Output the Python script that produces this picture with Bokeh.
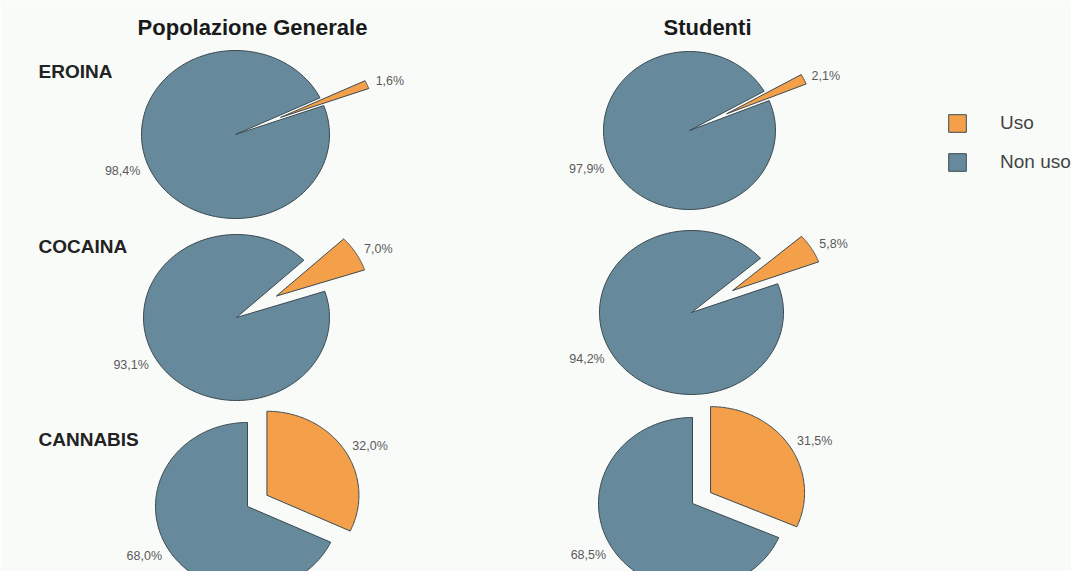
import numpy as np
from bokeh.plotting import figure
from bokeh.models import ColumnDataSource, Range1d, Legend, LegendItem
from bokeh.core.properties import value
from bokeh.embed import file_html
from bokeh.resources import INLINE

# ---------------- data ----------------
groups = ["Popolazione Generale", "Studenti"]
substances = ["EROINA", "COCAINA", "CANNABIS"]
series = ["Uso", "Non uso"]
uso_pop = [1.6, 7.0, 32.0]
non_uso_pop = [98.4, 93.1, 68.0]
uso_stud = [2.1, 5.8, 31.5]
non_uso_stud = [97.9, 94.2, 68.5]

# ---------------- layout (screen px) ----------------
centers = [[(235, 134), (236, 317), (247, 506)],
           [(689, 130), (691, 312), (692, 503)]]
radii = [[(94, 84), (93, 83), (92, 84)],
         [(86, 79), (92, 82), (94, 86)]]
uso_start_deg = [[25.9, 43.6, 90.0], [29.8, 41.4, 90.0]]
explode = [[0.52, 0.50, 0.25], [0.48, 0.52, 0.23]]
title_x = [252, 707]
row_label_y = [71, 246, 439]

C_USO = "#F4A04A"
C_NON = "#66899B"
C_EDGE = "#3c4a50"
BG = "#F9FBF9"
FONT = "Liberation Sans"


def arc(cx, cy, rx, ry, a0, a1, n=140):
    t = np.radians(np.linspace(a0, a1, n))
    return list(cx + rx * np.cos(t)), list(cy + ry * np.sin(t))


p = figure(width=1071, height=571, x_range=Range1d(0, 1071), y_range=Range1d(-571, 0),
           output_backend="svg", toolbar_location=None, min_border=0,
           x_axis_location=None, y_axis_location=None)
p.grid.visible = False
p.outline_line_color = None
p.background_fill_color = BG
p.border_fill_color = BG

uso_vals = [uso_pop, uso_stud]
non_vals = [non_uso_pop, non_uso_stud]

o_xs, o_ys, g_xs, g_ys = [], [], [], []
lab_o = dict(x=[], y=[], text=[])
lab_g = dict(x=[], y=[], text=[])

for g in range(len(groups)):
    for i in range(len(substances)):
        u, n = uso_vals[g][i], non_vals[g][i]
        tot = u + n
        so, sg = u / tot * 360.0, n / tot * 360.0
        cx, cy = centers[g][i][0], -centers[g][i][1]
        rx, ry = radii[g][i]
        s = uso_start_deg[g][i]
        bo = np.radians(s - so / 2)
        ex = explode[g][i]
        ax, ay = cx + ex * rx * np.cos(bo), cy + ex * ry * np.sin(bo)
        xa, ya = arc(ax, ay, rx, ry, s, s - so)
        o_xs.append([ax] + xa); o_ys.append([ay] + ya)
        xg, yg = arc(cx, cy, rx, ry, s - so, s - so - sg)
        g_xs.append([cx] + xg); g_ys.append([cy] + yg)
        lab_o["x"].append(ax + 1.1 * rx * np.cos(bo))
        lab_o["y"].append(ay + 1.1 * ry * np.sin(bo))
        lab_o["text"].append(f"{u:.1f}%".replace(".", ","))
        bg = np.radians(s - so - sg / 2)
        lab_g["x"].append(cx + 1.1 * rx * np.cos(bg))
        lab_g["y"].append(cy + 1.1 * ry * np.sin(bg))
        lab_g["text"].append(f"{n:.1f}%".replace(".", ","))

r_non = p.patches(xs=g_xs, ys=g_ys, fill_color=C_NON, line_color=C_EDGE, line_width=1)
r_uso = p.patches(xs=o_xs, ys=o_ys, fill_color=C_USO, line_color=C_EDGE, line_width=1)

p.text(x="x", y="y", text="text", source=ColumnDataSource(lab_o), text_align="left",
       text_baseline="middle", text_font=value(FONT), text_font_size="12.5px", text_color="#5a5a5a")
p.text(x="x", y="y", text="text", source=ColumnDataSource(lab_g), text_align="right",
       text_baseline="middle", text_font=value(FONT), text_font_size="12.5px", text_color="#5a5a5a")

# column titles
p.text(x=title_x, y=[-27, -27], text=groups, text_align="center", text_baseline="middle",
       text_font=value(FONT), text_font_style="bold", text_font_size="22px", text_color="#1a1a1a")
# row labels
p.text(x=[38] * 3, y=[-v for v in row_label_y], text=substances, text_align="left",
       text_baseline="middle", text_font=value(FONT), text_font_style="bold",
       text_font_size="19px", text_color="#222222")

legend = Legend(items=[LegendItem(label=series[0], renderers=[r_uso]),
                       LegendItem(label=series[1], renderers=[r_non])],
                location=(936, 388), glyph_width=22, glyph_height=22, label_height=22,
                spacing=17, label_standoff=32, padding=10, margin=0,
                border_line_alpha=0, background_fill_alpha=0,
                label_text_font=FONT, label_text_font_size="19px", label_text_color="#444444")
p.add_layout(legend)

open("out.html", "w").write(file_html(p, INLINE))
